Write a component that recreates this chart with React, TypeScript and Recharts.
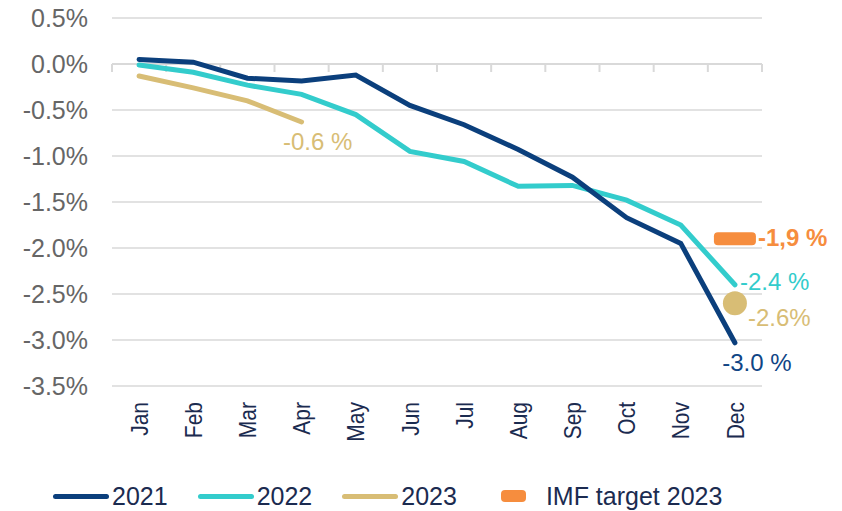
import React from 'react';
import { LineChart, Line, XAxis, YAxis, CartesianGrid, ReferenceLine, Legend } from 'recharts';

const months = ['Jan', 'Feb', 'Mar', 'Apr', 'May', 'Jun', 'Jul', 'Aug', 'Sep', 'Oct', 'Nov', 'Dec'];
const series2021 = [0.05, 0.02, -0.155, -0.185, -0.12, -0.45, -0.66, -0.93, -1.23, -1.67, -1.95, -3.03];
const series2022 = [-0.01, -0.09, -0.23, -0.33, -0.55, -0.95, -1.06, -1.33, -1.32, -1.48, -1.75, -2.4];
const series2023 = [-0.13, -0.26, -0.4, -0.63, null, null, null, null, null, null, null, null];
const forecast2023 = [null, null, null, null, null, null, null, null, null, null, null, -2.6];
const imfTarget2023 = [null, null, null, null, null, null, null, null, null, null, null, -1.9];
const yTicks = [0.5, 0, -0.5, -1, -1.5, -2, -2.5, -3, -3.5];
const boundaryTicks = [0, 1, 2, 3, 4, 5, 6, 7, 8, 9, 10, 11, 12];
const pointLabels = { y2021: '-3.0 %', y2022: '-2.4 %', y2023: '-0.6 %', forecast: '-2.6%', imf: '-1,9 %' };
const legendItems = [
  { label: '2021', key: 'y2021', kind: 'line' },
  { label: '2022', key: 'y2022', kind: 'line' },
  { label: '2023', key: 'y2023', kind: 'line' },
  { label: 'IMF target 2023', key: 'imf', kind: 'rect' },
];

const COLORS: Record<string, string> = {
  y2021: '#0b3f7c',
  y2022: '#33cccc',
  y2023: '#d8bd75',
  forecast: '#d8bd75',
  imf: '#f68d3e',
};
const FONT = '"Liberation Sans", Arial, sans-serif';

const data = months.map((m, i) => ({
  x: i + 0.5,
  month: m,
  y2021: series2021[i],
  y2022: series2022[i],
  y2023: series2023[i],
  forecast: forecast2023[i],
  imf: imfTarget2023[i],
}));

const MonthTick = (props: any) => {
  const { x, y, payload } = props;
  return (
    <text
      x={0}
      y={0}
      transform={`translate(${x} ${y}) rotate(-90) scale(1 1.18)`}
      textAnchor="end"
      dominantBaseline="central"
      fill="#1b2b50"
      fontSize={21}
      fontFamily={FONT}
    >
      {months[Math.floor(payload.value)]}
    </text>
  );
};

const makeLabel = (key: string, idx: number, dx: number, dy: number, anchor: string, bold = false, color?: string) =>
  (props: any) => {
    const { x, y, index } = props;
    if (index !== idx || x == null || y == null) return <g />;
    return (
      <text
        x={x + dx}
        y={y + dy}
        textAnchor={anchor}
        dominantBaseline="central"
        fill={color || COLORS[key]}
        fontSize={24}
        fontWeight={bold ? 'bold' : 'normal'}
        fontFamily={FONT}
      >
        {(pointLabels as any)[key]}
      </text>
    );
  };

const ImfDot = (props: any) => {
  const { cx, cy } = props;
  if (cx == null || cy == null) return <g />;
  return <rect x={cx - 21} y={cy - 6.5} width={42} height={13} rx={4} ry={4} fill={COLORS.imf} />;
};

const LegendContent = () => (
  <div style={{ display: 'flex', alignItems: 'center', height: 30, fontFamily: FONT, fontSize: 25, color: '#1b2b50' }}>
    {legendItems.map((it, i) => (
      <div key={it.key} style={{ display: 'flex', alignItems: 'center', marginRight: i === 2 ? 44 : 30 }}>
        {it.kind === 'line' ? (
          <div style={{ width: 56, height: 5, borderRadius: 3, background: COLORS[it.key], marginRight: 3 }} />
        ) : (
          <div style={{ width: 25, height: 12, borderRadius: 4, background: COLORS[it.key], marginRight: 20 }} />
        )}
        <span style={{ lineHeight: '28px', whiteSpace: 'nowrap' }}>{it.label}</span>
      </div>
    ))}
  </div>
);

export default function App() {
  return (
    <div style={{ position: 'absolute', left: 0, top: 0, width: 842, height: 511, background: '#fff' }}>
      <LineChart width={842} height={511} data={data} margin={{ top: 18, right: 80, left: 0, bottom: 0 }}>
        <CartesianGrid vertical={false} stroke="#d9d9d9" strokeWidth={1.3} />
        <XAxis
          dataKey="x"
          type="number"
          domain={[0, 12]}
          ticks={data.map((d) => d.x)}
          interval={0}
          axisLine={false}
          tickLine={false}
          tickSize={0}
          tickMargin={16}
          height={95}
          tick={<MonthTick />}
        />
        <YAxis
          domain={[-3.5, 0.5]}
          ticks={yTicks}
          interval={0}
          axisLine={false}
          tickLine={false}
          tickSize={0}
          tickMargin={24}
          width={112}
          tick={{ fill: '#666666', fontSize: 25, fontFamily: FONT }}
          tickFormatter={(v: number) => v.toFixed(1) + '%'}
        />
        <ReferenceLine y={0} stroke="#d9d9d9" strokeWidth={2} />
        {boundaryTicks.map((b) => (
          <ReferenceLine
            key={b}
            segment={[{ x: b, y: 0 }, { x: b, y: -0.087 }]}
            stroke="#d9d9d9"
            strokeWidth={2}
          />
        ))}
        <Line
          dataKey="y2022"
          stroke={COLORS.y2022}
          strokeWidth={5}
          strokeLinecap="round"
          dot={false}
          isAnimationActive={false}
          label={makeLabel('y2022', 11, 5, -3, 'start')}
        />
        <Line
          dataKey="y2021"
          stroke={COLORS.y2021}
          strokeWidth={5}
          strokeLinecap="round"
          dot={false}
          isAnimationActive={false}
          label={makeLabel('y2021', 11, 22, 20, 'middle', false, '#0f4585')}
        />
        <Line
          dataKey="y2023"
          stroke={COLORS.y2023}
          strokeWidth={5}
          strokeLinecap="round"
          dot={false}
          isAnimationActive={false}
          label={makeLabel('y2023', 3, 16, 20, 'middle')}
        />
        <Line
          dataKey="forecast"
          stroke="none"
          dot={{ r: 12, fill: COLORS.y2023, stroke: 'none' }}
          isAnimationActive={false}
          legendType="none"
          label={makeLabel('forecast', 11, 13, 14, 'start')}
        />
        <Line
          dataKey="imf"
          stroke="none"
          dot={<ImfDot />}
          isAnimationActive={false}
          label={makeLabel('imf', 11, 23, -1, 'start', true)}
        />
        <Legend
          verticalAlign="bottom"
          align="left"
          height={30}
          content={<LegendContent />}
          wrapperStyle={{ left: 53, bottom: 0, width: 780 }}
        />
      </LineChart>
    </div>
  );
}
